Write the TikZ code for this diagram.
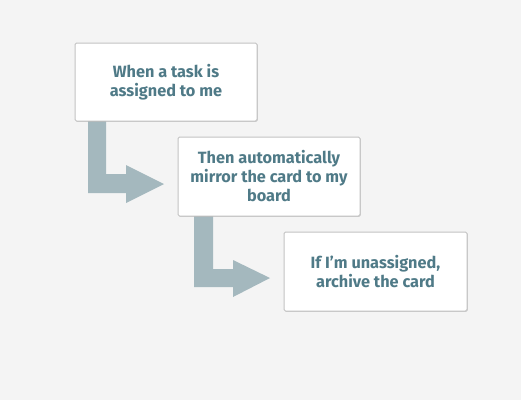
\documentclass[tikz,border=0pt]{standalone}
\usepackage{fontspec}
\setmainfont{Fira Sans}
\usetikzlibrary{shadows,calc}
\definecolor{bg}{HTML}{F4F4F4}
\definecolor{txt}{HTML}{4F7A87}
\definecolor{arr}{HTML}{A4B8BE}
\definecolor{edge}{HTML}{C2C2C2}
\tikzset{
  card/.style={draw=edge, line width=1pt, fill=white, rounded corners=1.5pt,
    drop shadow={shadow xshift=0.8pt, shadow yshift=-0.8pt, opacity=0.25, fill=black!60},
    text=txt, align=center, inner sep=0pt,
    font=\fontsize{16.3}{19}\selectfont\bfseries},
  flow/.style={fill=arr, draw=none}
}
\begin{document}
\begin{tikzpicture}[x=1pt,y=-1pt]
\fill[bg] (0,0) rectangle (521,400);
\useasboundingbox (0,0) rectangle (521,400);
% arrows
\coordinate (o1) at (75,121);
\coordinate (o2) at (178,216);
\fill[flow] ($(o1)+(13,0)$) -- ($(o1)+(31,0)$) -- ($(o1)+(31,53)$) -- ($(o1)+(51,53)$) -- ($(o1)+(51,44)$) -- ($(o1)+(89,63)$) -- ($(o1)+(51,82)$) -- ($(o1)+(51,72)$) -- ($(o1)+(13,72)$) -- cycle;
\fill[flow] ($(o2)+(16,0)$) -- ($(o2)+(35,0)$) -- ($(o2)+(35,53)$) -- ($(o2)+(55,53)$) -- ($(o2)+(55,44)$) -- ($(o2)+(92,62)$) -- ($(o2)+(55,81)$) -- ($(o2)+(55,71)$) -- ($(o2)+(16,71)$) -- cycle;
% cards
\node[card, minimum width=182pt, minimum height=78pt] (b1) at (166,82) {When a task is\\assigned to me};
\node[card, minimum width=182pt, minimum height=79pt] (b2) at (269,176.5) {Then automatically\\mirror the card to my\\board};
\node[card, minimum width=183pt, minimum height=79pt] (b3) at (375.5,271.5) {If I’m unassigned,\\archive the card};
\end{tikzpicture}
\end{document}
